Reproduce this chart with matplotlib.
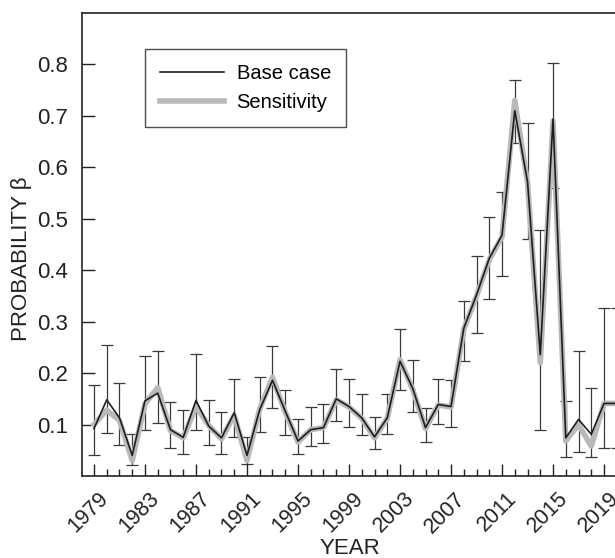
import numpy as np
import matplotlib.pyplot as plt
import matplotlib.transforms as mtransforms
from matplotlib.ticker import MultipleLocator

plt.rcParams['font.family'] = ['Liberation Sans', 'DejaVu Sans']

# años y probabilidades (caso base, sensibilidad, intervalo)
years = np.arange(1979, 2021)
base = [0.092, 0.148, 0.113, 0.040, 0.146, 0.161, 0.090, 0.075, 0.147, 0.097,
        0.074, 0.123, 0.040, 0.129, 0.186, 0.126, 0.068, 0.090, 0.094, 0.150,
        0.135, 0.113, 0.076, 0.113, 0.223, 0.170, 0.094, 0.139, 0.135, 0.287,
        0.352, 0.423, 0.468, 0.710, 0.572, 0.236, 0.694, 0.074, 0.110, 0.081,
        0.141, 0.141]
sens = [0.100, 0.128, 0.108, 0.030, 0.140, 0.172, 0.088, 0.074, 0.135, 0.098,
        0.072, 0.118, 0.030, 0.130, 0.192, 0.124, 0.066, 0.090, 0.094, 0.148,
        0.134, 0.112, 0.074, 0.112, 0.226, 0.168, 0.092, 0.138, 0.134, 0.285,
        0.350, 0.420, 0.465, 0.730, 0.570, 0.220, 0.690, 0.068, 0.100, 0.058,
        0.141, 0.141]
upper = [0.176, 0.255, 0.181, 0.081, 0.233, 0.243, 0.143, 0.128, 0.238, 0.148,
         0.124, 0.189, 0.076, 0.193, 0.253, 0.167, 0.111, 0.135, 0.140, 0.208,
         0.189, 0.160, 0.115, 0.160, 0.285, 0.226, 0.132, 0.189, 0.187, 0.341,
         0.428, 0.503, 0.553, 0.769, 0.687, 0.478, 0.802, 0.145, 0.242, 0.171,
         0.326, 0.326]
lower = [0.040, 0.084, 0.060, 0.021, 0.089, 0.103, 0.054, 0.043, 0.090, 0.061,
         0.043, 0.076, 0.024, 0.086, 0.133, 0.079, 0.042, 0.059, 0.064, 0.106,
         0.096, 0.080, 0.052, 0.082, 0.168, 0.125, 0.066, 0.101, 0.096, 0.223,
         0.278, 0.344, 0.389, 0.647, 0.461, 0.090, 0.559, 0.037, 0.047, 0.037,
         0.055, 0.055]

base = np.array(base)
yerr = [base - np.array(lower), np.array(upper) - base]

fig = plt.figure(figsize=(6.15, 5.58), dpi=100)
ax = fig.add_axes([0.1333, 0.147, 0.8667, 0.8297])

ax.errorbar(years, base, yerr=yerr, fmt='none', ecolor='#3a3a3a',
            elinewidth=0.9, capsize=4, capthick=0.9, zorder=1)
ax.plot(years, sens, color='#b9b9b9', lw=4, label='Sensitivity', zorder=2)
ax.plot(years, base, color='#1e1e1e', lw=1.2, label='Base case', zorder=3)

ax.set_xlim(1978.06, 2019.86)
ax.set_ylim(0, 0.9)
ax.set_yticks([0.1, 0.2, 0.3, 0.4, 0.5, 0.6, 0.7, 0.8])
ax.set_xticks(np.arange(1979, 2020, 4))
ax.xaxis.set_minor_locator(MultipleLocator(1))
ax.tick_params(axis='both', which='major', direction='in', length=9,
               width=1, colors='#222222', labelsize=16)
ax.tick_params(axis='y', which='major', pad=10)
ax.tick_params(axis='x', which='major', pad=8, labelsize=15.5)
ax.tick_params(axis='x', which='minor', direction='in', length=5, width=1,
               colors='#222222')
# etiquetas de años giradas, corridas un poco a la derecha
offset = mtransforms.ScaledTranslation(0.04, -0.01, fig.dpi_scale_trans)
for lab in ax.get_xticklabels():
    lab.set_rotation(45)
    lab.set_ha('right')
    lab.set_va('top')
    lab.set_rotation_mode('anchor')
    lab.set_transform(lab.get_transform() + offset)

for s in ['left', 'bottom', 'top']:
    ax.spines[s].set_color('#222222')
    ax.spines[s].set_linewidth(1.2)
ax.spines['right'].set_visible(False)

ax.set_xlabel('YEAR', fontsize=16, color='#222222')
ax.xaxis.set_label_coords(0.503, -0.133)
ax.set_ylabel('PROBABILITY β', fontsize=16, color='#222222')
ax.yaxis.set_label_coords(-0.094, 0.47)

h, l = ax.get_legend_handles_labels()
leg = ax.legend(h[::-1], l[::-1], loc='upper left', bbox_to_anchor=(0.118, 0.923),
                fontsize=14.5, frameon=True, fancybox=False, edgecolor='#222222',
                handlelength=3.2, borderpad=0.75, labelspacing=0.5,
                handletextpad=0.6, borderaxespad=0)
leg.get_frame().set_linewidth(1.0)

fig.savefig('out.png', dpi=100)
